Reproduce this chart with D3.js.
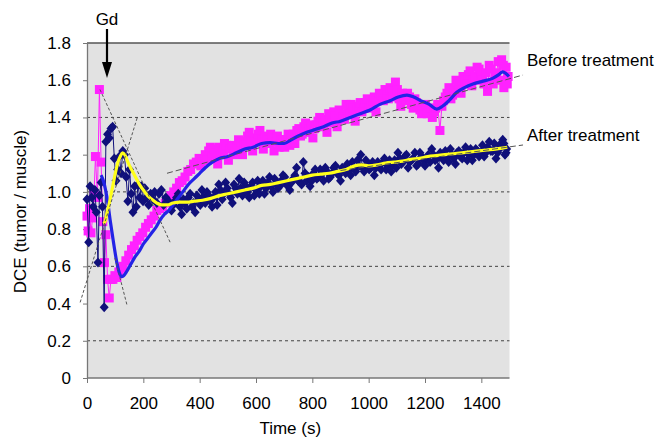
<!DOCTYPE html>
<html>
<head>
<meta charset="utf-8">
<script src="https://cdn.jsdelivr.net/npm/d3@7"></script>
<style>
  body { margin: 0; background: #fff; }
  svg { display: block; font-family: "Liberation Sans", Arial, sans-serif; }
</style>
</head>
<body>
<svg id="chart" width="669" height="440"></svg>
<script>
// time (s), DCE ratio
const beforeRaw = [[0,0.87],[4,0.79],[9,0.91],[14,0.78],[20,0.86],[25,0.99],[30,1.19],[37,0.97],[44,1.55],[50,1.16],[56,0.84],[62,0.62],[67,0.77],[73,0.53],[79,0.43],[85,0.53],[92,0.53],[99,0.55],[106,0.54],[113,0.57],[120,0.59],[128,0.60],[138,0.63],[148,0.66],[158,0.69],[168,0.71],[178,0.74],[188,0.76],[198,0.78],[208,0.81],[218,0.83],[228,0.85],[238,0.87],[248,0.90],[258,0.91],[268,0.92],[278,0.94],[288,0.96],[298,0.98],[308,1.00],[318,1.02],[328,1.05],[338,1.06],[348,1.08],[358,1.11],[368,1.12],[378,1.15],[388,1.16],[398,1.18],[410,1.17],[420,1.20],[432,1.22],[445,1.19],[458,1.21],[470,1.24],[482,1.22],[495,1.25],[508,1.23],[520,1.20],[532,1.24],[545,1.27],[558,1.25],[570,1.30],[582,1.27],[595,1.29],[608,1.31],[620,1.28],[632,1.30],[645,1.26],[658,1.29],[670,1.27],[682,1.24],[695,1.28],[708,1.28],[720,1.25],[732,1.31],[745,1.33],[758,1.30],[770,1.35],[782,1.32],[795,1.36],[808,1.34],[820,1.38],[832,1.35],[845,1.39],[858,1.42],[870,1.37],[882,1.41],[895,1.44],[908,1.40],[920,1.47],[932,1.42],[945,1.45],[958,1.44],[970,1.48],[982,1.45],[995,1.50],[1008,1.47],[1020,1.51],[1032,1.49],[1045,1.52],[1058,1.55],[1070,1.50],[1082,1.54],[1095,1.59],[1108,1.50],[1120,1.53],[1132,1.49],[1145,1.51],[1158,1.45],[1170,1.48],[1182,1.44],[1195,1.46],[1208,1.42],[1220,1.45],[1232,1.43],[1245,1.47],[1253,1.33],[1260,1.46],[1272,1.51],[1285,1.56],[1298,1.52],[1310,1.60],[1322,1.55],[1335,1.62],[1348,1.58],[1360,1.65],[1372,1.60],[1385,1.67],[1398,1.62],[1410,1.58],[1422,1.54],[1435,1.66],[1448,1.62],[1460,1.70],[1472,1.71],[1480,1.56],[1488,1.67],[1495,1.62]]
const beforeRawExtra = [[404,1.14],[426,1.17],[438,1.24],[452,1.23],[464,1.15],[476,1.20],[488,1.26],[502,1.17],[514,1.25],[526,1.22],[538,1.28],[552,1.20],[564,1.26],[576,1.32],[588,1.22],[602,1.27],[614,1.33],[626,1.23],[638,1.28],[652,1.31],[664,1.22],[676,1.30],[688,1.28],[702,1.24],[714,1.31],[726,1.29],[738,1.26],[752,1.34],[764,1.31],[776,1.37],[788,1.34],[802,1.29],[814,1.36],[826,1.40],[838,1.37],[852,1.32],[864,1.40],[876,1.43],[888,1.35],[902,1.42],[914,1.39],[926,1.44],[938,1.47],[952,1.38],[964,1.46],[976,1.43],[988,1.48],[1002,1.45],[1014,1.49],[1026,1.43],[1038,1.53],[1052,1.49],[1064,1.52],[1076,1.56],[1088,1.51],[1102,1.55],[1114,1.46],[1126,1.51],[1138,1.53],[1152,1.47],[1164,1.50],[1176,1.46],[1188,1.42],[1202,1.47],[1214,1.43],[1226,1.40],[1238,1.45],[1266,1.49],[1278,1.53],[1292,1.50],[1304,1.55],[1316,1.58],[1328,1.53],[1342,1.60],[1354,1.63],[1366,1.57],[1378,1.62],[1392,1.66],[1404,1.60],[1416,1.64],[1428,1.68],[1442,1.58],[1454,1.64],[1466,1.60],[1478,1.68],[1492,1.58]]

const beforeSmooth = [[50,1.09],[58,1.06],[66,1.01],[74,0.94],[82,0.85],[90,0.77],[98,0.69],[106,0.62],[114,0.57],[122,0.545],[130,0.55],[140,0.57],[155,0.61],[170,0.65],[185,0.68],[200,0.72],[215,0.75],[230,0.78],[245,0.81],[260,0.85],[275,0.88],[290,0.90],[305,0.93],[320,0.96],[340,1.00],[360,1.04],[380,1.07],[400,1.10],[420,1.13],[445,1.16],[470,1.18],[500,1.19],[530,1.21],[560,1.23],[590,1.24],[620,1.26],[650,1.265],[680,1.26],[700,1.26],[725,1.28],[750,1.30],[780,1.32],[810,1.335],[840,1.35],[870,1.37],[900,1.38],[935,1.40],[970,1.42],[1005,1.44],[1040,1.47],[1076,1.49],[1105,1.51],[1136,1.52],[1160,1.51],[1185,1.49],[1215,1.47],[1242,1.445],[1262,1.46],[1285,1.49],[1313,1.535],[1340,1.56],[1370,1.58],[1406,1.595],[1440,1.61],[1462,1.63],[1476,1.645],[1488,1.635],[1498,1.62]]

const afterRaw = [[0,0.96],[6,0.73],[11,1.03],[17,0.97],[22,0.92],[28,1.01],[33,0.89],[39,0.62],[44,0.98],[50,1.05],[55,0.92],[61,0.38],[67,1.27],[73,1.31],[79,1.29],[85,1.34],[91,1.35],[97,1.18],[103,1.06],[109,1.12],[115,1.19],[121,1.10],[127,1.22],[133,1.20],[139,1.08],[145,0.95],[151,1.12],[157,0.99],[163,0.89],[169,1.03],[175,0.92],[181,1.04],[187,0.97],[193,1.03],[199,0.95],[205,1.02],[212,0.97],[219,0.93],[226,0.99],[233,0.96],[240,1.00],[248,0.94],[256,0.99],[264,1.01],[272,0.93],[280,0.97],[290,0.95],[300,0.90],[312,0.95],[324,0.99],[336,0.88],[348,0.94],[360,0.97],[372,0.92],[384,0.89],[396,0.96],[408,1.01],[420,0.94],[432,0.98],[444,0.92],[456,1.00],[468,1.04],[480,0.96],[492,1.05],[504,0.99],[516,0.94],[528,1.02],[540,1.07],[552,0.98],[564,1.03],[576,0.97],[588,1.05],[600,1.01],[612,0.99],[624,1.06],[636,1.02],[648,1.08],[660,1.00],[672,1.05],[684,1.03],[696,1.09],[708,1.04],[720,1.01],[732,1.07],[744,1.13],[756,1.05],[768,1.16],[780,1.06],[792,1.03],[804,1.10],[816,1.07],[828,1.12],[840,1.06],[852,1.11],[864,1.08],[876,1.13],[888,1.10],[900,1.06],[912,1.12],[924,1.15],[936,1.09],[948,1.13],[960,1.17],[972,1.20],[984,1.11],[996,1.15],[1008,1.13],[1020,1.09],[1032,1.16],[1044,1.12],[1056,1.18],[1068,1.14],[1080,1.11],[1092,1.17],[1104,1.21],[1116,1.15],[1128,1.19],[1140,1.13],[1152,1.17],[1164,1.21],[1176,1.15],[1188,1.19],[1200,1.14],[1212,1.20],[1224,1.23],[1236,1.17],[1248,1.13],[1260,1.19],[1272,1.22],[1284,1.16],[1296,1.20],[1308,1.15],[1320,1.22],[1332,1.18],[1344,1.24],[1356,1.20],[1368,1.17],[1380,1.23],[1392,1.19],[1404,1.25],[1416,1.21],[1428,1.27],[1440,1.22],[1452,1.18],[1464,1.25],[1476,1.28],[1484,1.20],[1490,1.23]]
const afterRawExtra = [[306,0.93],[318,0.97],[330,0.92],[342,0.96],[354,0.91],[366,0.99],[378,0.94],[390,0.98],[402,0.93],[414,0.97],[426,1.00],[438,0.95],[450,0.97],[462,0.93],[474,1.01],[486,0.99],[498,1.02],[510,0.97],[522,1.04],[534,0.99],[546,1.02],[558,1.05],[570,1.00],[582,1.03],[594,0.98],[606,1.06],[618,1.03],[630,0.99],[642,1.05],[654,1.03],[666,1.07],[678,1.02],[690,1.06],[702,1.08],[714,1.03],[726,1.05],[738,1.09],[750,1.06],[762,1.04],[774,1.10],[786,1.08],[798,1.06],[810,1.12],[822,1.08],[834,1.10],[846,1.13],[858,1.07],[870,1.10],[882,1.14],[894,1.09],[906,1.13],[918,1.10],[930,1.12],[942,1.16],[954,1.11],[966,1.14],[978,1.13],[990,1.17],[1002,1.12],[1014,1.16],[1026,1.13],[1038,1.14],[1050,1.16],[1062,1.12],[1074,1.17],[1086,1.15],[1098,1.13],[1110,1.18],[1122,1.16],[1134,1.20],[1146,1.16],[1158,1.18],[1170,1.14],[1182,1.21],[1194,1.17],[1206,1.18],[1218,1.16],[1230,1.20],[1242,1.18],[1254,1.21],[1266,1.17],[1278,1.19],[1290,1.23],[1302,1.18],[1314,1.21],[1326,1.19],[1338,1.21],[1350,1.17],[1362,1.23],[1374,1.20],[1386,1.22],[1398,1.21],[1410,1.19],[1422,1.24],[1434,1.22],[1446,1.26],[1458,1.21],[1470,1.24],[1480,1.26],[1488,1.21]]

const afterSmooth = [[58,0.83],[64,0.84],[70,0.88],[78,0.93],[86,0.99],[94,1.05],[102,1.11],[110,1.16],[118,1.19],[126,1.21],[134,1.20],[145,1.16],[158,1.12],[172,1.08],[186,1.04],[200,1.01],[215,0.98],[230,0.96],[248,0.94],[265,0.93],[285,0.93],[305,0.94],[330,0.945],[355,0.945],[380,0.95],[410,0.955],[440,0.965],[470,0.98],[500,0.99],[530,1.0],[560,1.01],[590,1.02],[620,1.035],[650,1.04],[680,1.05],[710,1.06],[740,1.07],[770,1.08],[800,1.09],[830,1.095],[860,1.10],[890,1.11],[920,1.12],[950,1.14],[975,1.145],[1000,1.14],[1030,1.145],[1060,1.155],[1090,1.16],[1120,1.165],[1150,1.175],[1180,1.18],[1210,1.19],[1240,1.195],[1270,1.20],[1300,1.205],[1330,1.21],[1360,1.215],[1390,1.22],[1420,1.225],[1450,1.23],[1475,1.235],[1492,1.24]]

// fitted trend lines and slope guides
const beforeTrend = [[284,1.10],[1548,1.628]]
const afterTrend = [[900,1.115],[1548,1.252]]
const slopeGuides = [
	[[46,1.55],[298,0.72]],
	[[178,1.397],[-25,0.403]],
	[[99,0.645],[142,0.392]]
]

const xTicks = [0,200,400,600,800,1000,1200,1400]
const yTicks = [0,0.2,0.4,0.6,0.8,1.0,1.2,1.4,1.6,1.8]
const gridValues = [0.2,0.6,1.0,1.4]
const gdTime = 71

const byTime = (a, b) => a[0] - b[0]
const beforeAll = beforeRaw.concat(beforeRawExtra).sort(byTime)
const afterAll = afterRaw.concat(afterRawExtra).sort(byTime)

const margin = {top: 43, right: 159.5, bottom: 62, left: 87},
	width = 669 - margin.left - margin.right,
	height = 440 - margin.top - margin.bottom

const svg = d3.select("#chart")
const g = svg.append("g").attr("transform", "translate(" + margin.left + "," + margin.top + ")")

const x = d3.scaleLinear().domain([0, 1500]).range([0, width])
const y = d3.scaleLinear().domain([0, 1.8]).range([height, 0])

g.append("rect")
	.attr("width", width)
	.attr("height", height)
	.attr("fill", "#e2e2e2")

g.selectAll(".grid")
	.data(gridValues)
	.enter()
	.append("line")
	.attr("x1", 0)
	.attr("x2", width)
	.attr("y1", d => y(d))
	.attr("y2", d => y(d))
	.attr("stroke", "#444")
	.attr("stroke-dasharray", "3,3")

// top border
g.append("line")
	.attr("x1", 0).attr("x2", width)
	.attr("y1", 0).attr("y2", 0)
	.attr("stroke", "#555")
	.attr("stroke-width", 1.5)

const yaxis = d3.axisLeft(y)
	.tickValues(yTicks)
	.tickSize(4)
	.tickSizeOuter(0)
	.tickPadding(12)
	.tickFormat(d => d === 0 ? "0" : d.toFixed(1))

const xaxis = d3.axisBottom(x)
	.tickValues(xTicks)
	.tickSize(5)
	.tickSizeOuter(0)
	.tickPadding(14)
	.tickFormat(d3.format("d"))

const gy = g.append("g").call(yaxis)
const gx = g.append("g").attr("transform", "translate(0," + height + ")").call(xaxis)

gx.select(".domain").attr("d", "M0,0H" + width)

;[gx, gy].forEach(a => {
	a.select(".domain").attr("stroke", "#777").attr("stroke-width", 1.3)
	a.selectAll(".tick line").attr("stroke", "#777")
	a.selectAll(".tick text")
		.attr("fill", "#000")
		.style("font-size", "17px")
		.style("font-family", "'Liberation Sans', Arial, sans-serif")
})

const line = d3.line()
	.x(d => x(d[0]))
	.y(d => y(d[1]))

// before treatment raw (squares)
g.append("path")
	.attr("d", line(beforeAll))
	.attr("fill", "none")
	.attr("stroke", "#ff22ff")
	.attr("stroke-width", 1)

g.selectAll(".sq")
	.data(beforeAll)
	.enter()
	.append("rect")
	.attr("x", d => x(d[0]) - 4.5)
	.attr("y", d => y(d[1]) - 4.5)
	.attr("width", 9)
	.attr("height", 9)
	.attr("fill", "#ff22ff")

// after treatment raw (diamonds)
g.append("path")
	.attr("d", line(afterAll))
	.attr("fill", "none")
	.attr("stroke", "#10107a")
	.attr("stroke-width", 1)

g.selectAll(".dm")
	.data(afterAll)
	.enter()
	.append("path")
	.attr("d", "M0,-5L4.5,0L0,5L-4.5,0Z")
	.attr("transform", d => "translate(" + x(d[0]) + "," + y(d[1]) + ")")
	.attr("fill", "#10107a")

g.append("path")
	.attr("d", line.curve(d3.curveMonotoneX)(beforeSmooth))
	.attr("fill", "none")
	.attr("stroke", "#2323e6")
	.attr("stroke-width", 3.2)

g.append("path")
	.attr("d", line(afterSmooth))
	.attr("fill", "none")
	.attr("stroke", "#ffff1a")
	.attr("stroke-width", 3.2)

line.curve(d3.curveLinear)

;[beforeTrend, afterTrend].forEach(tr => {
	g.append("path")
		.attr("d", line(tr))
		.attr("fill", "none")
		.attr("stroke", "#555")
		.attr("stroke-width", 1)
		.attr("stroke-dasharray", "6,3")
})

slopeGuides.forEach(s => {
	g.append("path")
		.attr("d", line(s))
		.attr("fill", "none")
		.attr("stroke", "#555")
		.attr("stroke-width", 1)
		.attr("stroke-dasharray", "3,2")
})

// series labels next to the trend line ends
const bEnd = beforeTrend[1], aEnd = afterTrend[1]
g.append("text")
	.attr("x", x(bEnd[0]) + 4)
	.attr("y", y(bEnd[1]) - 9)
	.style("font-size", "17px")
	.text("Before treatment")

g.append("text")
	.attr("x", x(aEnd[0]) + 4)
	.attr("y", y(aEnd[1]) - 4)
	.style("font-size", "17px")
	.text("After treatment")

// Gd injection arrow
const gx0 = x(gdTime)
g.append("line")
	.attr("x1", gx0).attr("x2", gx0)
	.attr("y1", -14).attr("y2", 22)
	.attr("stroke", "#000")
	.attr("stroke-width", 2.2)

g.append("path")
	.attr("d", "M" + (gx0 - 5) + ",19L" + (gx0 + 5) + ",19L" + gx0 + ",35Z")
	.attr("fill", "#000")

g.append("text")
	.attr("x", gx0)
	.attr("y", -18)
	.attr("text-anchor", "middle")
	.style("font-size", "17px")
	.text("Gd")

// axis titles
g.append("text")
	.attr("x", width / 2 - 8)
	.attr("y", height + 56)
	.attr("text-anchor", "middle")
	.style("font-size", "17px")
	.text("Time (s)")

g.append("text")
	.attr("transform", "translate(" + (-61) + "," + (height / 2 + 1) + ") rotate(-90)")
	.attr("text-anchor", "middle")
	.style("font-size", "17px")
	.text("DCE (tumor / muscle)")
</script>
</body>
</html>
